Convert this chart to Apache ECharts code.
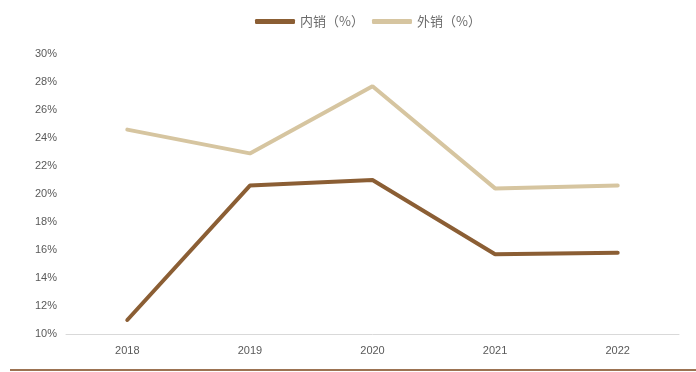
<!DOCTYPE html>
<html>
<head>
<meta charset="utf-8">
<script src="https://cdn.jsdelivr.net/npm/echarts@6/dist/echarts.min.js"></script>
<style>
html,body{margin:0;padding:0;background:#fff;}
#main{width:696px;height:372px;}
</style>
</head>
<body>
<div id="main"></div>
<script>
var categories = ['2018', '2019', '2020', '2021', '2022'];
var domesticName = '内销（%）';
var exportName = '外销（%）';
var domestic = [11.0, 20.6, 21.0, 15.7, 15.8];
var exportSales = [24.6, 22.9, 27.7, 20.4, 20.6];

var chart = echarts.init(document.getElementById('main'));
chart.setOption({
  animation: false,
  textStyle: { fontFamily: '"Noto Sans CJK SC", "Liberation Sans", sans-serif' },
  legend: {
    top: 10,
    left: 250,
    itemWidth: 40,
    itemHeight: 5,
    itemGap: 8,
    icon: 'roundRect',
    textStyle: { color: '#6b6b6b', fontSize: 13 },
    data: [domesticName, exportName]
  },
  grid: { left: 66, right: 17, top: 54, bottom: 38 },
  xAxis: {
    type: 'category',
    data: categories,
    boundaryGap: true,
    axisLine: { lineStyle: { color: '#d9d9d9', width: 1 } },
    axisTick: { show: false },
    axisLabel: { color: '#595959', fontSize: 11, margin: 11, fontFamily: 'Liberation Sans, sans-serif' }
  },
  yAxis: {
    type: 'value',
    min: 10,
    max: 30,
    interval: 2,
    axisLine: { show: false },
    axisTick: { show: false },
    splitLine: { show: false },
    axisLabel: { color: '#595959', fontSize: 11, margin: 9, formatter: '{value}%', fontFamily: 'Liberation Sans, sans-serif' }
  },
  series: [
    {
      name: domesticName,
      type: 'line',
      data: domestic,
      showSymbol: false,
      symbol: 'none',
      itemStyle: { color: '#8b5e34' },
      lineStyle: { color: '#8b5e34', width: 4, cap: 'round' }
    },
    {
      name: exportName,
      type: 'line',
      data: exportSales,
      showSymbol: false,
      symbol: 'none',
      itemStyle: { color: '#d6c5a0' },
      lineStyle: { color: '#d6c5a0', width: 4, cap: 'round' }
    }
  ],
  graphic: [
    {
      type: 'line',
      shape: { x1: 10, y1: 370, x2: 696, y2: 370 },
      style: { stroke: '#9c7352', lineWidth: 2 }
    }
  ]
});
</script>
</body>
</html>
